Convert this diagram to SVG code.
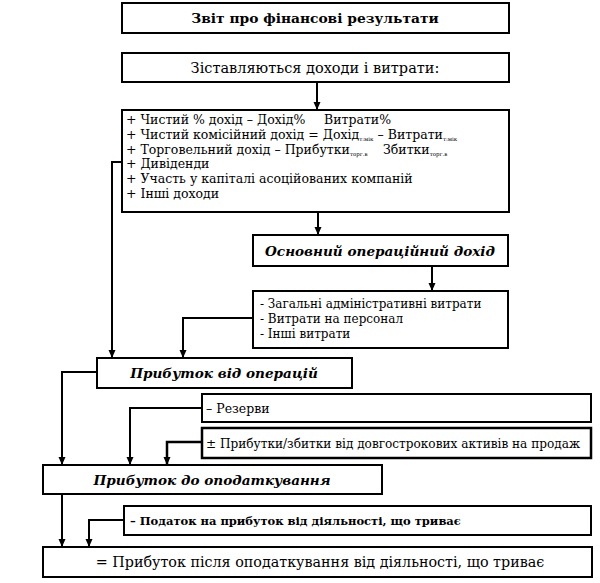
<svg xmlns="http://www.w3.org/2000/svg" width="600" height="583" viewBox="0 0 600 583">
<defs>
<marker id="arr" markerUnits="userSpaceOnUse" markerWidth="8" markerHeight="8" refX="8" refY="4" orient="auto">
<path d="M0,0.5 L8,4 L0,7.5 z" fill="#000"/>
</marker>
<style>
.box{fill:#fff;stroke:#000;stroke-width:2}
.t{fill:#000}
.s{font-size:12.5px}
.bi{font-weight:bold;font-style:italic;font-size:13.6px}
.sub{font-size:5.5px}
.c{fill:none;stroke:#000;stroke-width:2;marker-end:url(#arr)}
</style>
</defs>
<rect width="600" height="583" fill="#fff"/>
<g id="connectors">
<path class="c" d="M317,82 V110"/>
<path class="c" d="M122,162 H112 V358"/>
<path class="c" d="M318,212 V235"/>
<path class="c" d="M432,266 V291"/>
<path class="c" d="M253,318 H183 V358"/>
<path class="c" d="M97,372 H62 V465"/>
<path class="c" d="M202,408 H130 V465"/>
<path class="c" d="M202,442 H167 V465" style="stroke-width:2.5"/>
<path class="c" d="M62,494 V547"/>
<path class="c" d="M124,520 H89 V547"/>
</g>
<g font-family="'DejaVu Serif', serif">
<g id="n1">
<rect class="box" x="122" y="3" width="387" height="30"/>
<text class="t" x="315" y="23" text-anchor="middle" font-size="13.8" font-weight="bold">Звіт про фінансові результати</text>
</g>
<g id="n2">
<rect class="box" x="122" y="53" width="387" height="29"/>
<text class="t" x="315" y="72.5" text-anchor="middle" font-size="14.5">Зіставляються доходи і витрати:</text>
</g>
<g id="n3">
<rect class="box" x="122" y="110" width="387" height="102"/>
<text class="t s" x="126" y="124">+ Чистий % дохід – Дохід%<tspan x="324">Витрати%</tspan></text>
<text class="t s" x="126" y="139">+ Чистий комісійний дохід = Дохід<tspan class="sub" dy="2">т:мік</tspan><tspan dy="-2"> – Витрати</tspan><tspan class="sub" dy="2">т:мік</tspan></text>
<text class="t s" x="126" y="154">+ Торговельний дохід – Прибутки<tspan class="sub" dy="2">торг.в</tspan><tspan dy="-2" x="383">Збитки</tspan><tspan class="sub" dy="2">торг.в</tspan></text>
<text class="t s" x="126" y="168">+ Дивіденди</text>
<text class="t s" x="126" y="183">+ Участь у капіталі асоційованих компаній</text>
<text class="t s" x="126" y="198">+ Інші доходи</text>
</g>
<g id="n4">
<rect class="box" x="253" y="235" width="255" height="31"/>
<text class="t bi" x="380" y="255.5" text-anchor="middle">Основний операційний дохід</text>
</g>
<g id="n5">
<rect class="box" x="253" y="291" width="255" height="57"/>
<text class="t" x="260" y="308" font-size="12">- Загальні адміністративні витрати</text>
<text class="t" x="260" y="323" font-size="12">- Витрати на персонал</text>
<text class="t" x="260" y="338" font-size="12">- Інші витрати</text>
</g>
<g id="n6">
<rect class="box" x="97" y="358" width="255" height="30"/>
<text class="t bi" x="224" y="377.5" text-anchor="middle">Прибуток від операцій</text>
</g>
<g id="n7">
<rect class="box" x="202" y="394" width="389" height="28"/>
<text class="t s" x="206" y="412.5">– Резерви</text>
</g>
<g id="n8">
<rect class="box" x="202" y="428" width="389" height="30" style="stroke-width:2.5"/>
<text class="t" x="206" y="447.5" font-size="12.1">± Прибутки/збитки від довгострокових активів на продаж</text>
</g>
<g id="n9">
<rect class="box" x="43" y="465" width="339" height="29"/>
<text class="t bi" x="212" y="484.5" text-anchor="middle">Прибуток до оподаткування</text>
</g>
<g id="n10">
<rect class="box" x="124" y="506" width="467" height="29"/>
<text class="t" x="130" y="524.5" font-size="11.5" font-weight="bold">– Податок на прибуток від діяльності, що триває</text>
</g>
<g id="n11">
<rect class="box" x="43" y="547" width="549" height="30"/>
<text class="t" x="320" y="567" text-anchor="middle" font-size="14.3">= Прибуток після оподаткування від діяльності, що триває</text>
</g>
</g>
</svg>
